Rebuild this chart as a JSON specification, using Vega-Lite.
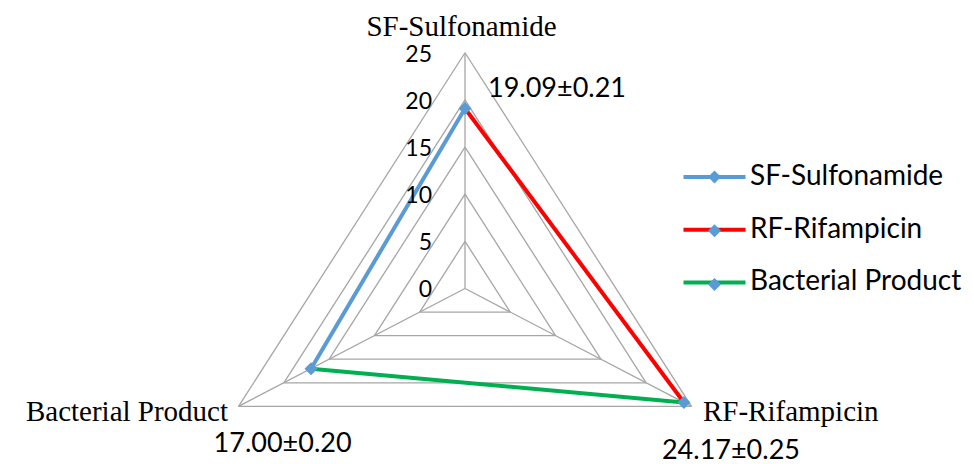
{
  "$schema": "https://vega.github.io/schema/vega-lite/v6.json",
  "width": 974,
  "height": 464,
  "padding": 0,
  "autosize": {"type": "none"},
  "background": "white",
  "config": {"view": {"stroke": null}},
  "datasets": {
    "points": [
      {"axis": "SF-Sulfonamide", "index": 0, "value": 19.09, "sd": 0.21},
      {"axis": "RF-Rifampicin", "index": 1, "value": 24.17, "sd": 0.25},
      {"axis": "Bacterial Product", "index": 2, "value": 17.00, "sd": 0.20}
    ],
    "segments": [
      {"series": "SF-Sulfonamide", "from": "Bacterial Product", "to": "SF-Sulfonamide"},
      {"series": "RF-Rifampicin", "from": "SF-Sulfonamide", "to": "RF-Rifampicin"},
      {"series": "Bacterial Product", "from": "RF-Rifampicin", "to": "Bacterial Product"}
    ],
    "grid": [
      {"level": 5, "side": 0}, {"level": 5, "side": 1}, {"level": 5, "side": 2},
      {"level": 10, "side": 0}, {"level": 10, "side": 1}, {"level": 10, "side": 2},
      {"level": 15, "side": 0}, {"level": 15, "side": 1}, {"level": 15, "side": 2},
      {"level": 20, "side": 0}, {"level": 20, "side": 1}, {"level": 20, "side": 2},
      {"level": 25, "side": 0}, {"level": 25, "side": 1}, {"level": 25, "side": 2}
    ],
    "ticks": [
      {"level": 0}, {"level": 5}, {"level": 10}, {"level": 15}, {"level": 20}, {"level": 25}
    ]
  },
  "layer": [
    {
      "data": {"name": "grid"},
      "transform": [
        {"calculate": "datum.level*sin(datum.side*2*PI/3)", "as": "gx1"},
        {"calculate": "datum.level*cos(datum.side*2*PI/3)", "as": "gy1"},
        {"calculate": "datum.level*sin((datum.side+1)*2*PI/3)", "as": "gx2"},
        {"calculate": "datum.level*cos((datum.side+1)*2*PI/3)", "as": "gy2"}
      ],
      "mark": {"type": "rule", "color": "#A6A6A6", "strokeWidth": 1.3},
      "encoding": {
        "x": {"field": "gx1", "type": "quantitative", "scale": {"domain": [-44.455, 48.66], "nice": false, "zero": false}, "axis": null},
        "y": {"field": "gy1", "type": "quantitative", "scale": {"domain": [-18.611, 30.594], "nice": false, "zero": false}, "axis": null},
        "x2": {"field": "gx2"},
        "y2": {"field": "gy2"}
      }
    },
    {
      "data": {"name": "grid"},
      "transform": [
        {"filter": "datum.level == 25"},
        {"calculate": "datum.level*sin(datum.side*2*PI/3)", "as": "gx1"},
        {"calculate": "datum.level*cos(datum.side*2*PI/3)", "as": "gy1"},
        {"calculate": "0", "as": "zero"}
      ],
      "mark": {"type": "rule", "color": "#A6A6A6", "strokeWidth": 1.3},
      "encoding": {
        "x": {"field": "zero", "type": "quantitative"},
        "y": {"field": "zero", "type": "quantitative"},
        "x2": {"field": "gx1"},
        "y2": {"field": "gy1"}
      }
    },
    {
      "data": {"name": "segments"},
      "transform": [
        {"lookup": "from", "from": {"data": {"name": "points"}, "key": "axis", "fields": ["index", "value"]}, "as": ["i1", "v1"]},
        {"lookup": "to", "from": {"data": {"name": "points"}, "key": "axis", "fields": ["index", "value"]}, "as": ["i2", "v2"]},
        {"calculate": "datum.v1*sin(datum.i1*2*PI/3)", "as": "sx1"},
        {"calculate": "datum.v1*cos(datum.i1*2*PI/3)", "as": "sy1"},
        {"calculate": "datum.v2*sin(datum.i2*2*PI/3)", "as": "sx2"},
        {"calculate": "datum.v2*cos(datum.i2*2*PI/3)", "as": "sy2"}
      ],
      "mark": {"type": "rule", "strokeWidth": 4, "strokeCap": "round"},
      "encoding": {
        "x": {"field": "sx1", "type": "quantitative"},
        "y": {"field": "sy1", "type": "quantitative"},
        "x2": {"field": "sx2"},
        "y2": {"field": "sy2"},
        "color": {
          "field": "series",
          "type": "nominal",
          "scale": {"domain": ["SF-Sulfonamide", "RF-Rifampicin", "Bacterial Product"], "range": ["#5B9BD5", "#FF0000", "#00B050"]},
          "legend": {
            "orient": "none", "legendX": 697, "legendY": 159.5, "title": null,
            "symbolType": "M-2,0L2,0", "symbolSize": 961, "symbolStrokeWidth": 4,
            "labelFont": "Lato", "labelFontSize": 28, "labelColor": "#000000",
            "labelOffset": 18, "rowPadding": 20.7, "labelLimit": 400, "padding": 0, "zindex": 1
          }
        }
      }
    },
    {
      "data": {"name": "points"},
      "transform": [
        {"calculate": "datum.value*sin(datum.index*2*PI/3)", "as": "px"},
        {"calculate": "datum.value*cos(datum.index*2*PI/3)", "as": "py"}
      ],
      "mark": {"type": "point", "filled": true, "color": "#5B9BD5", "opacity": 1, "size": 961},
      "encoding": {
        "x": {"field": "px", "type": "quantitative"},
        "y": {"field": "py", "type": "quantitative"},
        "shape": {
          "field": "index",
          "type": "nominal",
          "scale": {"domain": [0, 1, 2], "range": ["M0,-0.42L0.42,0L0,0.42L-0.42,0Z", "M0,-0.42L0.42,0L0,0.42L-0.42,0Z", "M0,-0.42L0.42,0L0,0.42L-0.42,0Z"]},
          "legend": {
            "orient": "none", "legendX": 697, "legendY": 159.5, "title": null,
            "symbolSize": 961, "symbolStrokeWidth": 4, "symbolFillColor": "#5B9BD5", "symbolStrokeColor": "rgba(0,0,0,0)",
            "labelFont": "Lato", "labelFontSize": 28, "labelOpacity": 0, "labelExpr": "' '",
            "labelOffset": 18, "rowPadding": 20.7, "labelLimit": 400, "padding": 0, "zindex": 2
          }
        }
      }
    },
    {
      "data": {"name": "points"},
      "transform": [
        {"calculate": "datum.value*sin(datum.index*2*PI/3)", "as": "px"},
        {"calculate": "datum.value*cos(datum.index*2*PI/3)", "as": "py"},
        {"calculate": "format(datum.value, '.2f') + '±' + format(datum.sd, '.2f')", "as": "lbl"}
      ],
      "layer": [
        {
          "transform": [{"filter": "datum.index == 0"}],
          "mark": {"type": "text", "font": "Lato", "fontSize": 27, "color": "#000000", "align": "left", "baseline": "alphabetic", "dx": 23, "dy": -11.8},
          "encoding": {"x": {"field": "px", "type": "quantitative"}, "y": {"field": "py", "type": "quantitative"}, "text": {"field": "lbl"}}
        },
        {
          "transform": [{"filter": "datum.index == 1"}],
          "mark": {"type": "text", "font": "Lato", "fontSize": 27, "color": "#000000", "align": "center", "baseline": "alphabetic", "dx": 47, "dy": 57},
          "encoding": {"x": {"field": "px", "type": "quantitative"}, "y": {"field": "py", "type": "quantitative"}, "text": {"field": "lbl"}}
        },
        {
          "transform": [{"filter": "datum.index == 2"}],
          "mark": {"type": "text", "font": "Lato", "fontSize": 27, "color": "#000000", "align": "center", "baseline": "alphabetic", "dx": -28.4, "dy": 83},
          "encoding": {"x": {"field": "px", "type": "quantitative"}, "y": {"field": "py", "type": "quantitative"}, "text": {"field": "lbl"}}
        }
      ]
    },
    {
      "data": {"name": "points"},
      "transform": [
        {"calculate": "25*sin(datum.index*2*PI/3)", "as": "ax"},
        {"calculate": "25*cos(datum.index*2*PI/3)", "as": "ay"}
      ],
      "layer": [
        {
          "transform": [{"filter": "datum.index == 0"}],
          "mark": {"type": "text", "font": "Liberation Serif", "fontSize": 29, "color": "#000000", "align": "center", "baseline": "alphabetic", "dx": -3.5, "dy": -16.7},
          "encoding": {"x": {"field": "ax", "type": "quantitative"}, "y": {"field": "ay", "type": "quantitative"}, "text": {"field": "axis"}}
        },
        {
          "transform": [{"filter": "datum.index == 1"}],
          "mark": {"type": "text", "font": "Liberation Serif", "fontSize": 29, "color": "#000000", "align": "left", "baseline": "alphabetic", "dx": 11.5, "dy": 14.6},
          "encoding": {"x": {"field": "ax", "type": "quantitative"}, "y": {"field": "ay", "type": "quantitative"}, "text": {"field": "axis"}}
        },
        {
          "transform": [{"filter": "datum.index == 2"}],
          "mark": {"type": "text", "font": "Liberation Serif", "fontSize": 29, "color": "#000000", "align": "right", "baseline": "alphabetic", "dx": -10.5, "dy": 14.6},
          "encoding": {"x": {"field": "ax", "type": "quantitative"}, "y": {"field": "ay", "type": "quantitative"}, "text": {"field": "axis"}}
        }
      ]
    },
    {
      "data": {"name": "ticks"},
      "transform": [{"calculate": "0", "as": "zero"}],
      "mark": {"type": "text", "font": "Lato", "fontSize": 23, "color": "#000000", "align": "right", "baseline": "middle", "dx": -33, "dy": 2},
      "encoding": {
        "x": {"field": "zero", "type": "quantitative"},
        "y": {"field": "level", "type": "quantitative"},
        "text": {"field": "level", "type": "quantitative"}
      }
    }
  ]
}
